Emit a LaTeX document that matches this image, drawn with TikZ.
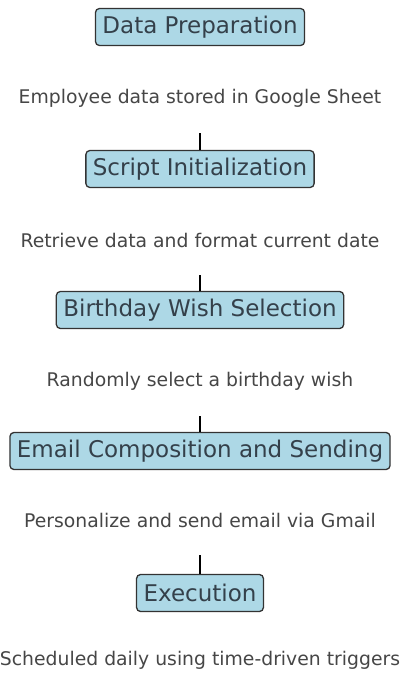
\documentclass[tikz,border=0pt]{standalone}
\usepackage{fontspec}
\setmainfont{DejaVu Sans}
\usetikzlibrary{positioning}

\definecolor{boxfill}{RGB}{173,216,230}
\definecolor{boxedge}{RGB}{51,51,51}
\definecolor{boxtext}{RGB}{52,64,74}
\definecolor{notetext}{RGB}{70,70,70}

\tikzset{
    stage/.style={draw=boxedge, line width=1.3pt, fill=boxfill, rounded corners=4pt,
        text=boxtext, font=\fontsize{23}{23}\selectfont, inner xsep=7pt,
        inner ysep=0pt, minimum height=37pt},
    note/.style={text=notetext, font=\fontsize{18.8}{18.8}\selectfont,
        inner sep=0pt, minimum height=70pt},
    link/.style={draw=black, line width=1.5pt}
}

\begin{document}
\begin{tikzpicture}[x=1pt,y=-1pt]
                \useasboundingbox (0,0) rectangle (404,675);

                \node[stage] (prep) at (200,27) {Data Preparation};
                \node[note] (prepnote) at (200,98) {Employee data stored in Google Sheet};

                \node[stage] (init) at (200,169) {Script Initialization};
                \node[note] (initnote) at (200,240) {Retrieve data and format current date};

                \node[stage] (wish) at (200,310) {Birthday Wish Selection};
                \node[note] (wishnote) at (200,381) {Randomly select a birthday wish};

                \node[stage] (mail) at (200,451) {Email Composition and Sending};
                \node[note] (mailnote) at (200,520) {Personalize and send email via Gmail};

                \node[stage] (exec) at (200,593) {Execution};
                \node[note] (execnote) at (200,660) {Scheduled daily using time-driven triggers};

                \draw[link] (prepnote) -- (init);
                \draw[link] (initnote) -- (wish);
                \draw[link] (wishnote) -- (mail);
                \draw[link] (mailnote) -- (exec);
            \end{tikzpicture}
\end{document}
